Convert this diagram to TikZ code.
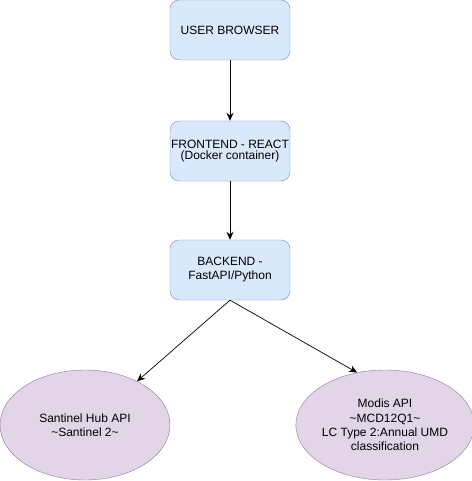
\documentclass[tikz,border=0pt]{standalone}
\usepackage{fontspec}
\setmainfont{Liberation Sans}
\usetikzlibrary{shapes.geometric,arrows.meta}
\definecolor{bfill}{HTML}{DAE8FC}
\definecolor{bdraw}{HTML}{6C8EBF}
\definecolor{pfill}{HTML}{E1D5E7}
\definecolor{pdraw}{HTML}{9673A6}
\tikzset{
  x=1pt,y=1pt,
  box/.style={draw=bdraw,fill=bfill,rounded corners=9pt,minimum width=120pt,minimum height=60pt,inner sep=0pt,align=center,font=\fontsize{12}{14}\selectfont},
  ell/.style={draw=pdraw,fill=pfill,ellipse,minimum width=170pt,minimum height=110pt,inner sep=0pt,align=center,font=\fontsize{12}{14.3}\selectfont},
  arr/.style={draw=black,line width=0.9pt,-{Stealth[length=8pt,width=7pt]}}
}
\begin{document}
\begin{tikzpicture}
\useasboundingbox (0,0) rectangle (471,-481);
\node[box] (b1) at (230,-30) {USER BROWSER};
\node[box] (b2) at (230,-151) {FRONTEND - REACT\\[-2.5pt](Docker container)};
\node[box] (b3) at (230,-270) {BACKEND -\\FastAPI/Python};
\node[ell] (e1) at (85,-425) {Santinel Hub API\\\textasciitilde Santinel 2\textasciitilde};
\node[ell] (e2) at (385,-425) {Modis API\\\textasciitilde MCD12Q1\textasciitilde\\LC Type 2:Annual UMD\\classification};
\draw[arr] (b1.south) -- (b2.north);
\draw[arr] (b2.south) -- (b3.north);
\draw[arr,line width=0.7pt] (b3.south) -- (e1.40);
\draw[arr,line width=0.7pt] (b3.south) -- (e2.118);
\end{tikzpicture}
\end{document}
